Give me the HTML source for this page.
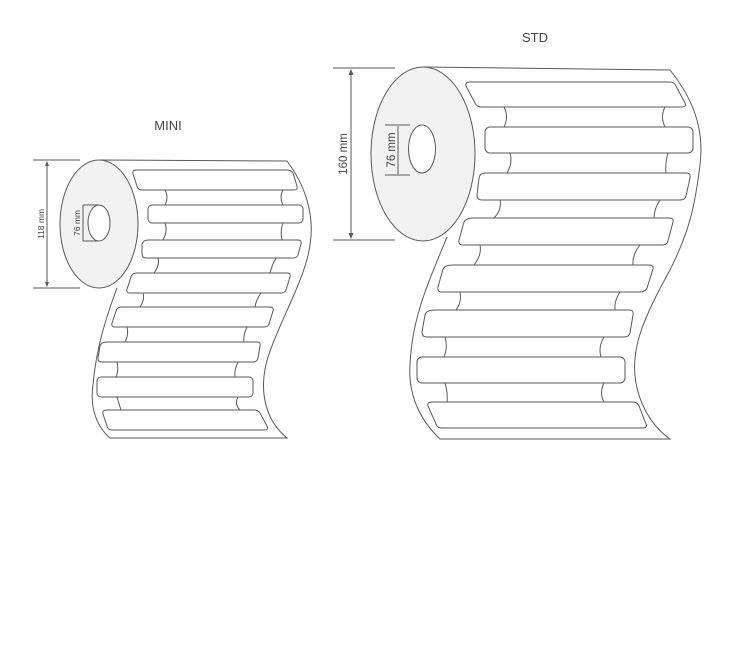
<!DOCTYPE html>
<html><head><meta charset="utf-8"><style>
html,body{margin:0;padding:0;background:#fff;}
svg{display:block;font-family:"Liberation Sans",sans-serif;}
</style></head><body>
<svg width="731" height="660" viewBox="0 0 731 660" xmlns="http://www.w3.org/2000/svg">
<g fill="none" stroke="#5a5a5a" stroke-width="1">
<!-- MINI web -->
<path d="M99,160 L287,161 C305,185 315,215 310,245 C305,280 280,320 268,357 C258,390 265,420 287,438 L110,438 C95,425 90,405 93,385 C96,350 105,320 117,288"/>
<!-- MINI labels -->
<path d="M136,170 L287,170 Q291,170 293,173 L297,186 Q298,190 294,190 L142,190 Q138,190 137,186 L133,174 Q132,170 136,170Z"/>
<rect x="148" y="205" width="155" height="18" rx="4"/>
<path d="M149,240 L298,240 Q302,240 301,244 L298,255 Q297,258 293,258 L146,258 Q142,258 142,254 L142,244 Q143,240 149,240Z"/>
<path d="M137,273 L287,273 Q291,273 290,277 L286,290 Q285,293 281,293 L130,293 Q126,293 127,289 L131,277 Q132,273 137,273Z"/>
<path d="M122,307 L270,307 Q274,307 273,311 L269,324 Q268,327 264,327 L115,327 Q111,327 112,323 L116,311 Q117,307 122,307Z"/>
<path d="M107,342 L257,342 Q261,342 260,346 L258,358 Q257,362 253,362 L102,362 Q98,362 98,358 L100,346 Q101,342 107,342Z"/>
<rect x="97" y="377" width="156" height="20" rx="4"/>
<path d="M107,410 L254,410 Q258,410 260,413 L267,426 Q269,430 264,430 L112,430 Q108,430 107,426 L103,414 Q102,410 107,410Z"/>
<!-- mini connectors -->
<path d="M165,190 q4,7 0,15 M283,190 q-4,7 0,15"/>
<path d="M165,223 q3,8 -2,17 M283,223 q-3,8 -1,17"/>
<path d="M158,258 q2,7 -4,15 M276,258 q-4,7 -6,15"/>
<path d="M143,293 q2,7 -3,14 M261,293 q-5,7 -6,14"/>
<path d="M127,327 q2,8 -2,15 M247,327 q-4,8 -3,15"/>
<path d="M117,362 q2,8 -1,15 M238,362 q-4,8 -3,15"/>
<path d="M117,397 q2,7 4,13 M238,397 q-4,7 2,13"/>
<!-- MINI roll -->
<ellipse cx="99" cy="224" rx="39" ry="64" fill="#f2f2f2"/>
<ellipse cx="99" cy="223" rx="11" ry="18" fill="#fff"/>
<path d="M33,160 H80 M33,288 H80 M47,162 V286 M83,205 V241 M83,205 H98 M83,241 H98"/>

<!-- STD web -->
<path d="M423,67 L670,70 C690,95 705,125 700,165 C695,205 690,230 670,270 C645,315 632,345 635,375 C637,400 650,425 670,439 L440,439 C420,420 408,395 410,365 C412,320 425,290 447,237"/>
<!-- STD labels -->
<path d="M470,82 L670,82 Q674,82 676,86 L685,103 Q687,107 682,107 L481,107 Q477,107 475,103 L466,86 Q465,82 470,82Z"/>
<rect x="485" y="127" width="208" height="26" rx="5"/>
<path d="M485,173 L686,173 Q691,173 690,178 L686,196 Q685,200 680,200 L482,200 Q477,200 477,195 L479,178 Q480,173 485,173Z"/>
<path d="M473,218 L669,218 Q674,218 673,222 L668,241 Q667,245 662,245 L463,245 Q458,245 459,240 L464,222 Q466,218 473,218Z"/>
<path d="M453,265 L649,265 Q654,265 653,269 L647,288 Q645,292 640,292 L442,292 Q437,292 438,287 L443,269 Q445,265 453,265Z"/>
<path d="M435,310 L629,310 Q634,310 633,315 L630,333 Q629,337 624,337 L427,337 Q422,337 422,332 L425,315 Q426,310 435,310Z"/>
<rect x="417" y="357" width="208" height="26" rx="5"/>
<path d="M432,402 L633,402 Q637,402 639,406 L646,424 Q648,428 642,428 L442,428 Q437,428 436,424 L428,406 Q427,402 432,402Z"/>
<!-- std connectors -->
<path d="M504,107 q5,10 0,20 M665,107 q-5,10 0,20"/>
<path d="M510,153 q3,10 -3,20 M668,153 q-3,10 -2,20"/>
<path d="M500,200 q2,10 -6,18 M660,200 q-6,9 -6,18"/>
<path d="M480,245 q2,10 -6,20 M640,245 q-8,10 -7,20"/>
<path d="M460,292 q2,10 -4,18 M620,292 q-6,9 -5,18"/>
<path d="M445,337 q3,10 -1,20 M604,337 q-6,10 -3,20"/>
<path d="M445,383 q3,10 2,19 M604,383 q-5,10 0,19"/>
<!-- STD roll -->
<ellipse cx="423" cy="154" rx="52" ry="87" fill="#f2f2f2"/>
<ellipse cx="422" cy="149" rx="13.5" ry="24" fill="#fff"/>
<path d="M333,68 H395 M333,240 H395 M351,70 V238 M398,126 V174 M385,125 H410 M385,175 H410"/>
</g>
<g fill="#5a5a5a">
<path d="M351,69 l-2.5,6 h5z M351,239 l-2.5,-6 h5z M47,161 l-2,5 h4z M47,287 l-2,-5 h4z"/>
</g>
<g fill="#444">
<text x="168" y="130" font-size="13" text-anchor="middle">MINI</text>
<text x="535" y="42" font-size="13" text-anchor="middle">STD</text>
<text transform="translate(347,154) rotate(-90)" font-size="11.5" text-anchor="middle">160 mm</text>
<text transform="translate(395,150) rotate(-90)" font-size="11.5" text-anchor="middle">76 mm</text>
<text transform="translate(44,224) rotate(-90)" font-size="8.5" text-anchor="middle">118 mm</text>
<text transform="translate(80,223) rotate(-90)" font-size="8.5" text-anchor="middle">76 mm</text>
</g>
</svg>
</body></html>
